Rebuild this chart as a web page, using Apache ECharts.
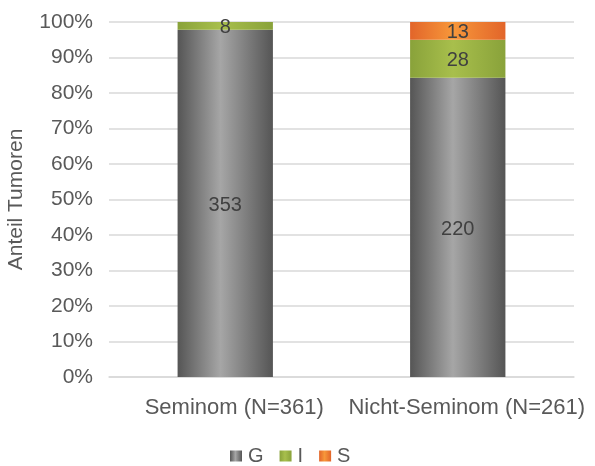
<!DOCTYPE html>
<html>
<head>
<meta charset="utf-8">
<script src="https://cdn.jsdelivr.net/npm/echarts@6/dist/echarts.min.js"></script>
<style>
  html, body { margin: 0; padding: 0; background: #fff; }
  #chart { width: 595px; height: 466px; }
</style>
</head>
<body>
<div id="chart"></div>
<script>
// Tumour counts per group, stacked to 100 %
const categories = ['Seminom (N=361)', 'Nicht-Seminom (N=261)'];
const seriesNames = ['G', 'I', 'S'];
const countsG = [353, 220];
const countsI = [8, 28];
const countsS = [0, 13];
const yTicks = [0, 10, 20, 30, 40, 50, 60, 70, 80, 90, 100];

const totals = categories.map((_, i) => countsG[i] + countsI[i] + countsS[i]);
const toShare = arr => arr.map((v, i) => ({ value: v / totals[i] * 100, count: v }));

const FONT = '"Liberation Sans", Arial, sans-serif';
const grad = (edge, mid) => new echarts.graphic.LinearGradient(0, 0, 1, 0, [
  { offset: 0, color: edge },
  { offset: 0.45, color: mid },
  { offset: 1, color: edge }
]);

const palette = [
  grad('#555555', '#a6a6a6'),
  grad('#89a23a', '#a8bf4c'),
  grad('#e2652a', '#f7973a')
];

const countLists = [countsG, countsI, countsS];

const chart = echarts.init(document.getElementById('chart'), null, { renderer: 'canvas' });
chart.setOption({
  animation: false,
  backgroundColor: '#ffffff',
  textStyle: { fontFamily: FONT },
  grid: { left: 109, right: 21, top: 22, bottom: 89, containLabel: false, outerBoundsMode: 'none' },
  legend: {
    top: 441,
    left: 225,
    itemWidth: 12,
    itemHeight: 11,
    itemGap: 16,
    icon: 'rect',
    textStyle: { fontFamily: FONT, fontSize: 20, color: '#595959', padding: [0, 0, 0, 1] },
    data: seriesNames
  },
  xAxis: {
    type: 'category',
    data: categories,
    axisLine: { lineStyle: { color: '#d9d9d9', width: 1.5 } },
    axisTick: { show: false },
    axisLabel: {
      fontFamily: FONT, fontSize: 22, color: '#595959', margin: 20,
      interval: 0, hideOverlap: false, padding: [0, 0, 0, 18]
    }
  },
  yAxis: {
    type: 'value',
    min: yTicks[0],
    max: yTicks[yTicks.length - 1],
    interval: 10,
    name: 'Anteil Tumoren',
    nameLocation: 'middle',
    nameGap: 82,
    nameTextStyle: { fontFamily: FONT, fontSize: 21, color: '#595959' },
    axisLine: { show: false },
    axisTick: { show: false },
    splitLine: { lineStyle: { color: '#d9d9d9', width: 1.5 } },
    axisLabel: {
      fontFamily: FONT, fontSize: 21, color: '#595959', margin: 16,
      formatter: v => v + '%'
    }
  },
  series: seriesNames.map((name, k) => ({
    name,
    type: 'bar',
    stack: 'share',
    barWidth: '41%',
    itemStyle: { color: palette[k] },
    label: {
      show: true,
      position: 'inside',
      offset: [0, 2],
      fontFamily: FONT,
      fontSize: 20,
      color: '#404040',
      formatter: p => (p.data.count > 0 ? String(p.data.count) : '')
    },
    data: toShare(countLists[k])
  }))
});
</script>
</body>
</html>
